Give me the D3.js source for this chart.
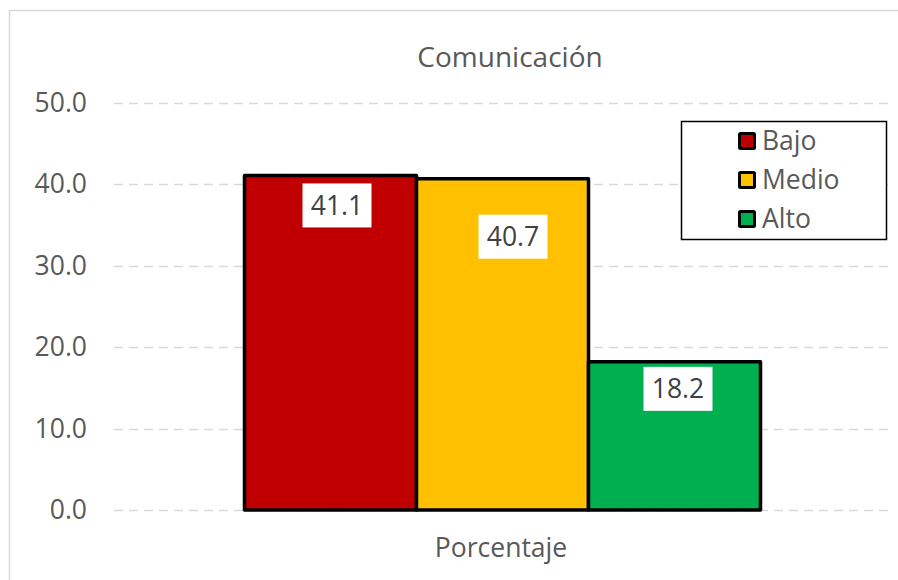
<!DOCTYPE html>
<html><head><meta charset="utf-8">
<script src="https://cdn.jsdelivr.net/npm/d3@7"></script>
<style>body{margin:0;background:#fff}svg{display:block}text{font-family:"Open Sans",sans-serif}</style>
</head><body><div id="c"></div>
<script>
const title = "Comunicación";
const xCategory = "Porcentaje";
const series = ["Bajo", "Medio", "Alto"];
const values = [41.1, 40.7, 18.2];
const colors = ["#C00000", "#FFC000", "#00B050"];
const yTicks = [0, 10, 20, 30, 40, 50];
// manual label offsets (px) as dragged in the original
const labelDx = [8, 12, 5];
const labelDy = [8, 36, 5];

const W = 898, H = 580;
const svg = d3.select("#c").append("svg").attr("width", W).attr("height", H);

svg.append("rect").attr("x", 9.5).attr("y", 10.5).attr("width", W).attr("height", H)
  .attr("fill", "#fff").attr("stroke", "#d9d9d9").attr("stroke-width", 1.5);

const y = d3.scaleLinear().domain([0, 50]).range([510, 103]);
const x0 = d3.scaleBand().domain([xCategory]).range([114, 888]).paddingInner(0).paddingOuter(0.25);
const x1 = d3.scaleBand().domain(series).range([x0(xCategory), x0(xCategory) + x0.bandwidth()]);

// gridlines
svg.append("g").selectAll("line").data(yTicks).join("line")
  .attr("x1", 114).attr("x2", 888)
  .attr("y1", d => Math.round(y(d)) + 0.5).attr("y2", d => Math.round(y(d)) + 0.5)
  .attr("stroke", "#d9d9d9").attr("stroke-width", 1.5).attr("stroke-dasharray", "9,6");

// y axis labels
const yAxis = d3.axisLeft(y).tickValues(yTicks).tickFormat(d3.format(".1f")).tickSize(0).tickPadding(0);
const ga = svg.append("g").attr("transform", "translate(87,0)").call(yAxis);
ga.select(".domain").remove();
ga.selectAll("text").attr("fill", "#595959").style("font-size", "26.5px").style("font-family", "'Open Sans',sans-serif");

// bars
svg.append("g").selectAll("rect").data(series).join("rect")
  .attr("x", d => x1(d) + 1.5)
  .attr("y", (d, i) => y(values[i]))
  .attr("width", x1.bandwidth())
  .attr("height", (d, i) => y(0) - y(values[i]))
  .attr("fill", (d, i) => colors[i])
  .attr("stroke", "#000").attr("stroke-width", 3.5).attr("stroke-linejoin", "round");

// data labels
const lg = svg.append("g").selectAll("g").data(series).join("g")
  .attr("transform", (d, i) => `translate(${x1(d) + x1.bandwidth() / 2 + labelDx[i]},${y(values[i]) + labelDy[i]})`);
lg.append("rect").attr("x", -34.5).attr("y", 0).attr("width", 69).attr("height", 44).attr("fill", "#fff");
lg.append("text").attr("x", 0).attr("y", 22).attr("dy", "0.35em").attr("text-anchor", "middle")
  .attr("fill", "#404040").style("font-size", "26.5px").text((d, i) => d3.format(".1f")(values[i]));

// title
svg.append("text").attr("x", 510).attr("y", 57).attr("dy", "0.35em").attr("text-anchor", "middle")
  .attr("fill", "#595959").style("font-size", "28px").text(title);

// x category label
svg.append("text").attr("x", x0(xCategory) + x0.bandwidth() / 2).attr("y", 548).attr("dy", "0.35em")
  .attr("text-anchor", "middle").attr("fill", "#595959").style("font-size", "26.5px").text(xCategory);

// legend
const leg = svg.append("g");
leg.append("rect").attr("x", 681.5).attr("y", 121.5).attr("width", 205).attr("height", 118)
  .attr("fill", "#fff").attr("stroke", "#000").attr("stroke-width", 1.5);
const li = leg.selectAll("g.it").data(series).join("g").attr("class", "it")
  .attr("transform", (d, i) => `translate(738,${141 + i * 39})`);
li.append("rect").attr("x", 1.5).attr("y", -7.5).attr("width", 15).attr("height", 15)
  .attr("fill", (d, i) => colors[i]).attr("stroke", "#000").attr("stroke-width", 3).attr("rx", 1);
li.append("text").attr("x", 24).attr("y", 0).attr("dy", "0.35em").attr("fill", "#595959")
  .style("font-size", "26.5px").text(d => d);
</script></body></html>
